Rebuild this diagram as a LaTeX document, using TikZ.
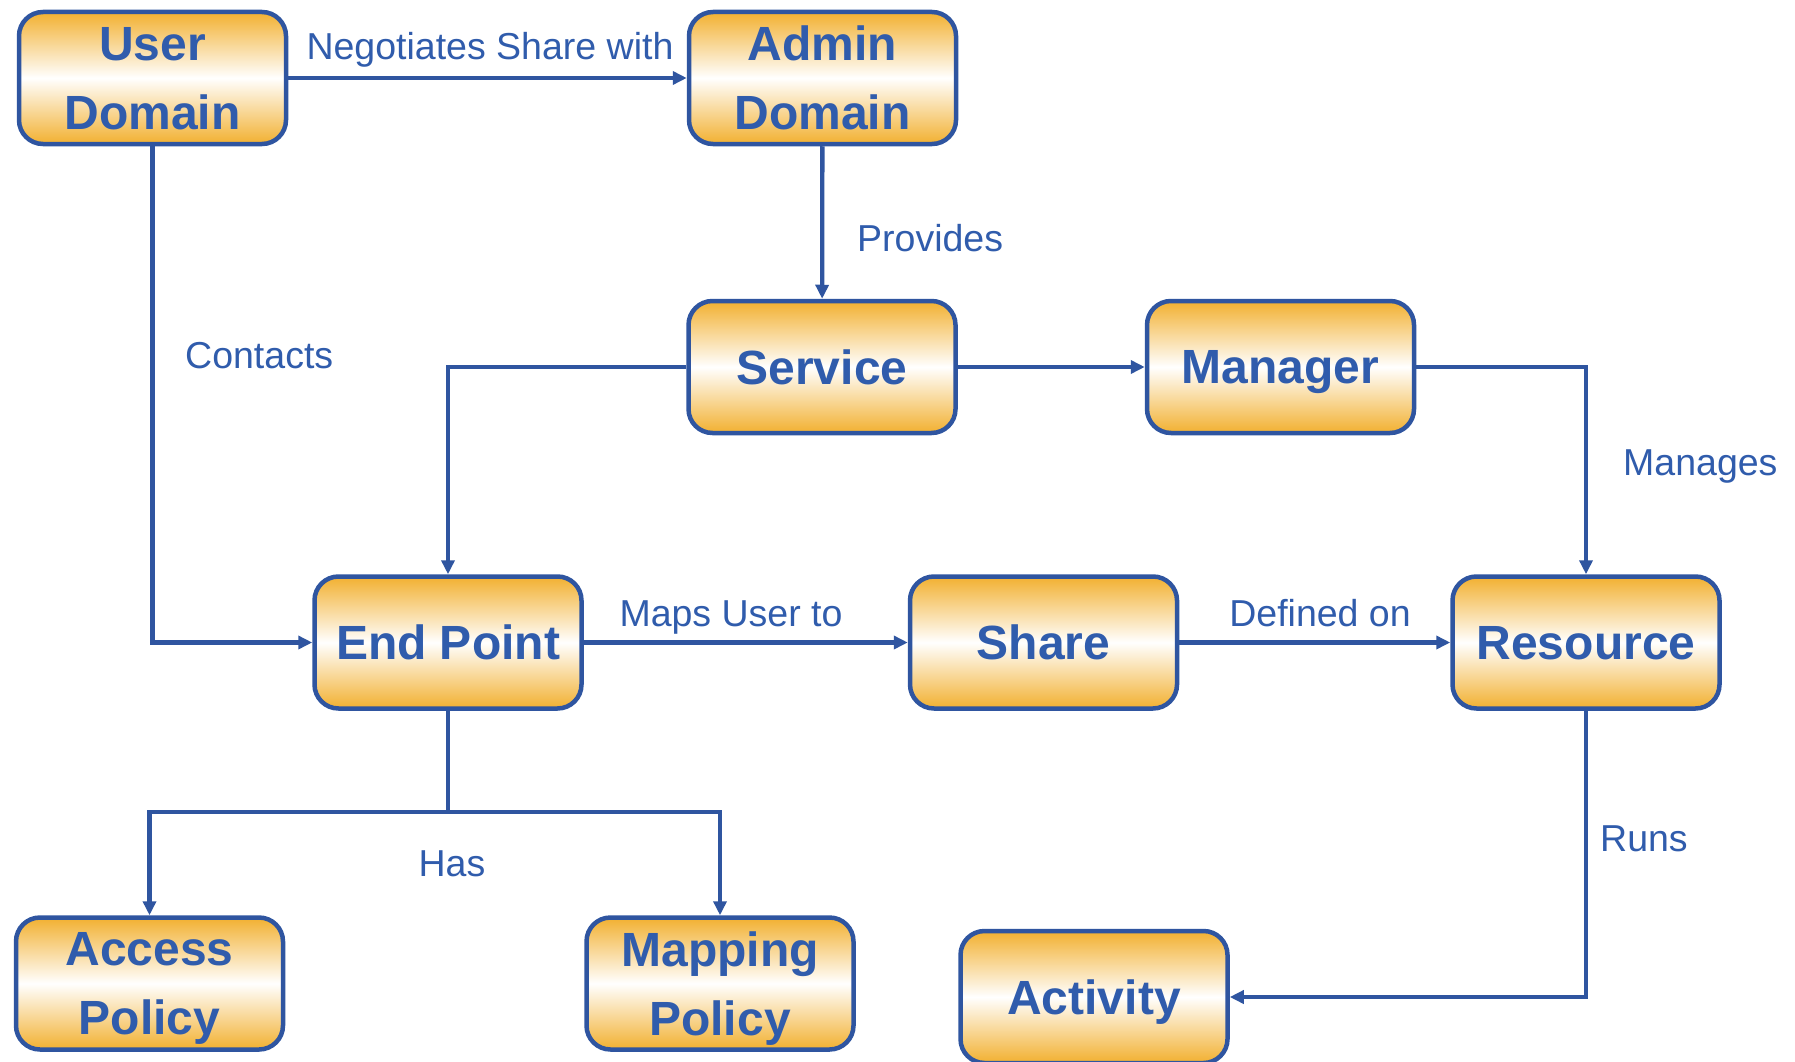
\documentclass[tikz,border=0pt]{standalone}
\usepackage{fontspec}
\setmainfont{Liberation Sans}
\usetikzlibrary{arrows.meta}
\definecolor{edgeblue}{RGB}{47,85,160}
\definecolor{txtblue}{RGB}{48,92,172}
\definecolor{boxorange}{RGB}{242,176,48}
\begin{document}
\begin{tikzpicture}[x=1pt,y=-1pt,
  box/.style={draw=edgeblue, line width=4.5pt, rounded corners=24pt,
    minimum width=267pt, minimum height=132pt, inner sep=0pt, text depth=0pt,
    top color=boxorange, bottom color=boxorange, middle color=white,
    text=txtblue, font=\fontsize{48}{69}\selectfont\bfseries, align=center},
  conn/.style={draw=edgeblue, line width=4.3pt, -{Triangle[length=14pt,width=13pt]}},
  lbl/.style={text=txtblue, font=\fontsize{37.5}{44}\selectfont, inner sep=0pt}]
\useasboundingbox (0,0) rectangle (1795,1062);
\fill[white] (0,0) rectangle (1795,1062);

\node[box] (user) at (152.5,78) {User\\Domain};
\node[box] (admin) at (822.5,78) {Admin\\Domain};
\node[box] (service) at (822,367) {Service};
\node[box] (manager) at (1280.5,367) {Manager};
\node[box] (endp) at (448,642.5) {End Point};
\node[box] (share) at (1043.5,642.5) {Share};
\node[box] (resource) at (1586,642.5) {Resource};
\node[box] (access) at (149.5,983.5) {Access\\Policy};
\node[box] (mapping) at (720,983.5) {Mapping\\Policy};
\node[box] (activity) at (1094,997) {Activity};

\coordinate (hasj) at (448,812);

\draw[conn] (user) -- (admin);
\draw[conn] (user.south) |- (endp.west);
\draw[conn] (admin) -- (service);
\draw[conn] (service) -- (manager);
\draw[conn] (service.west) -| (endp.north);
\draw[conn] (manager.east) -| (resource.north);
\draw[conn] (endp) -- (share);
\draw[conn] (share) -- (resource);
\draw[conn] (endp.south) -- (hasj) -| (access.north);
\draw[conn] (hasj) -| (mapping.north);
\draw[conn] (resource.south) |- (activity.east);

\node[lbl, anchor=base] (lneg) at (490,60) {Negotiates Share with};
\node[lbl, anchor=base west] (lcont) at (185,368) {Contacts};
\node[lbl, anchor=base west] (lprov) at (857,251) {Provides};
\node[lbl, anchor=base west] (lman) at (1623,475) {Manages};
\node[lbl, anchor=base] (lmaps) at (731,626) {Maps User to};
\node[lbl, anchor=base] (ldef) at (1320,626) {Defined on};
\node[lbl, anchor=base] (lhas) at (452,876) {Has};
\node[lbl, anchor=base west] (lruns) at (1600,851) {Runs};
\end{tikzpicture}
\end{document}
